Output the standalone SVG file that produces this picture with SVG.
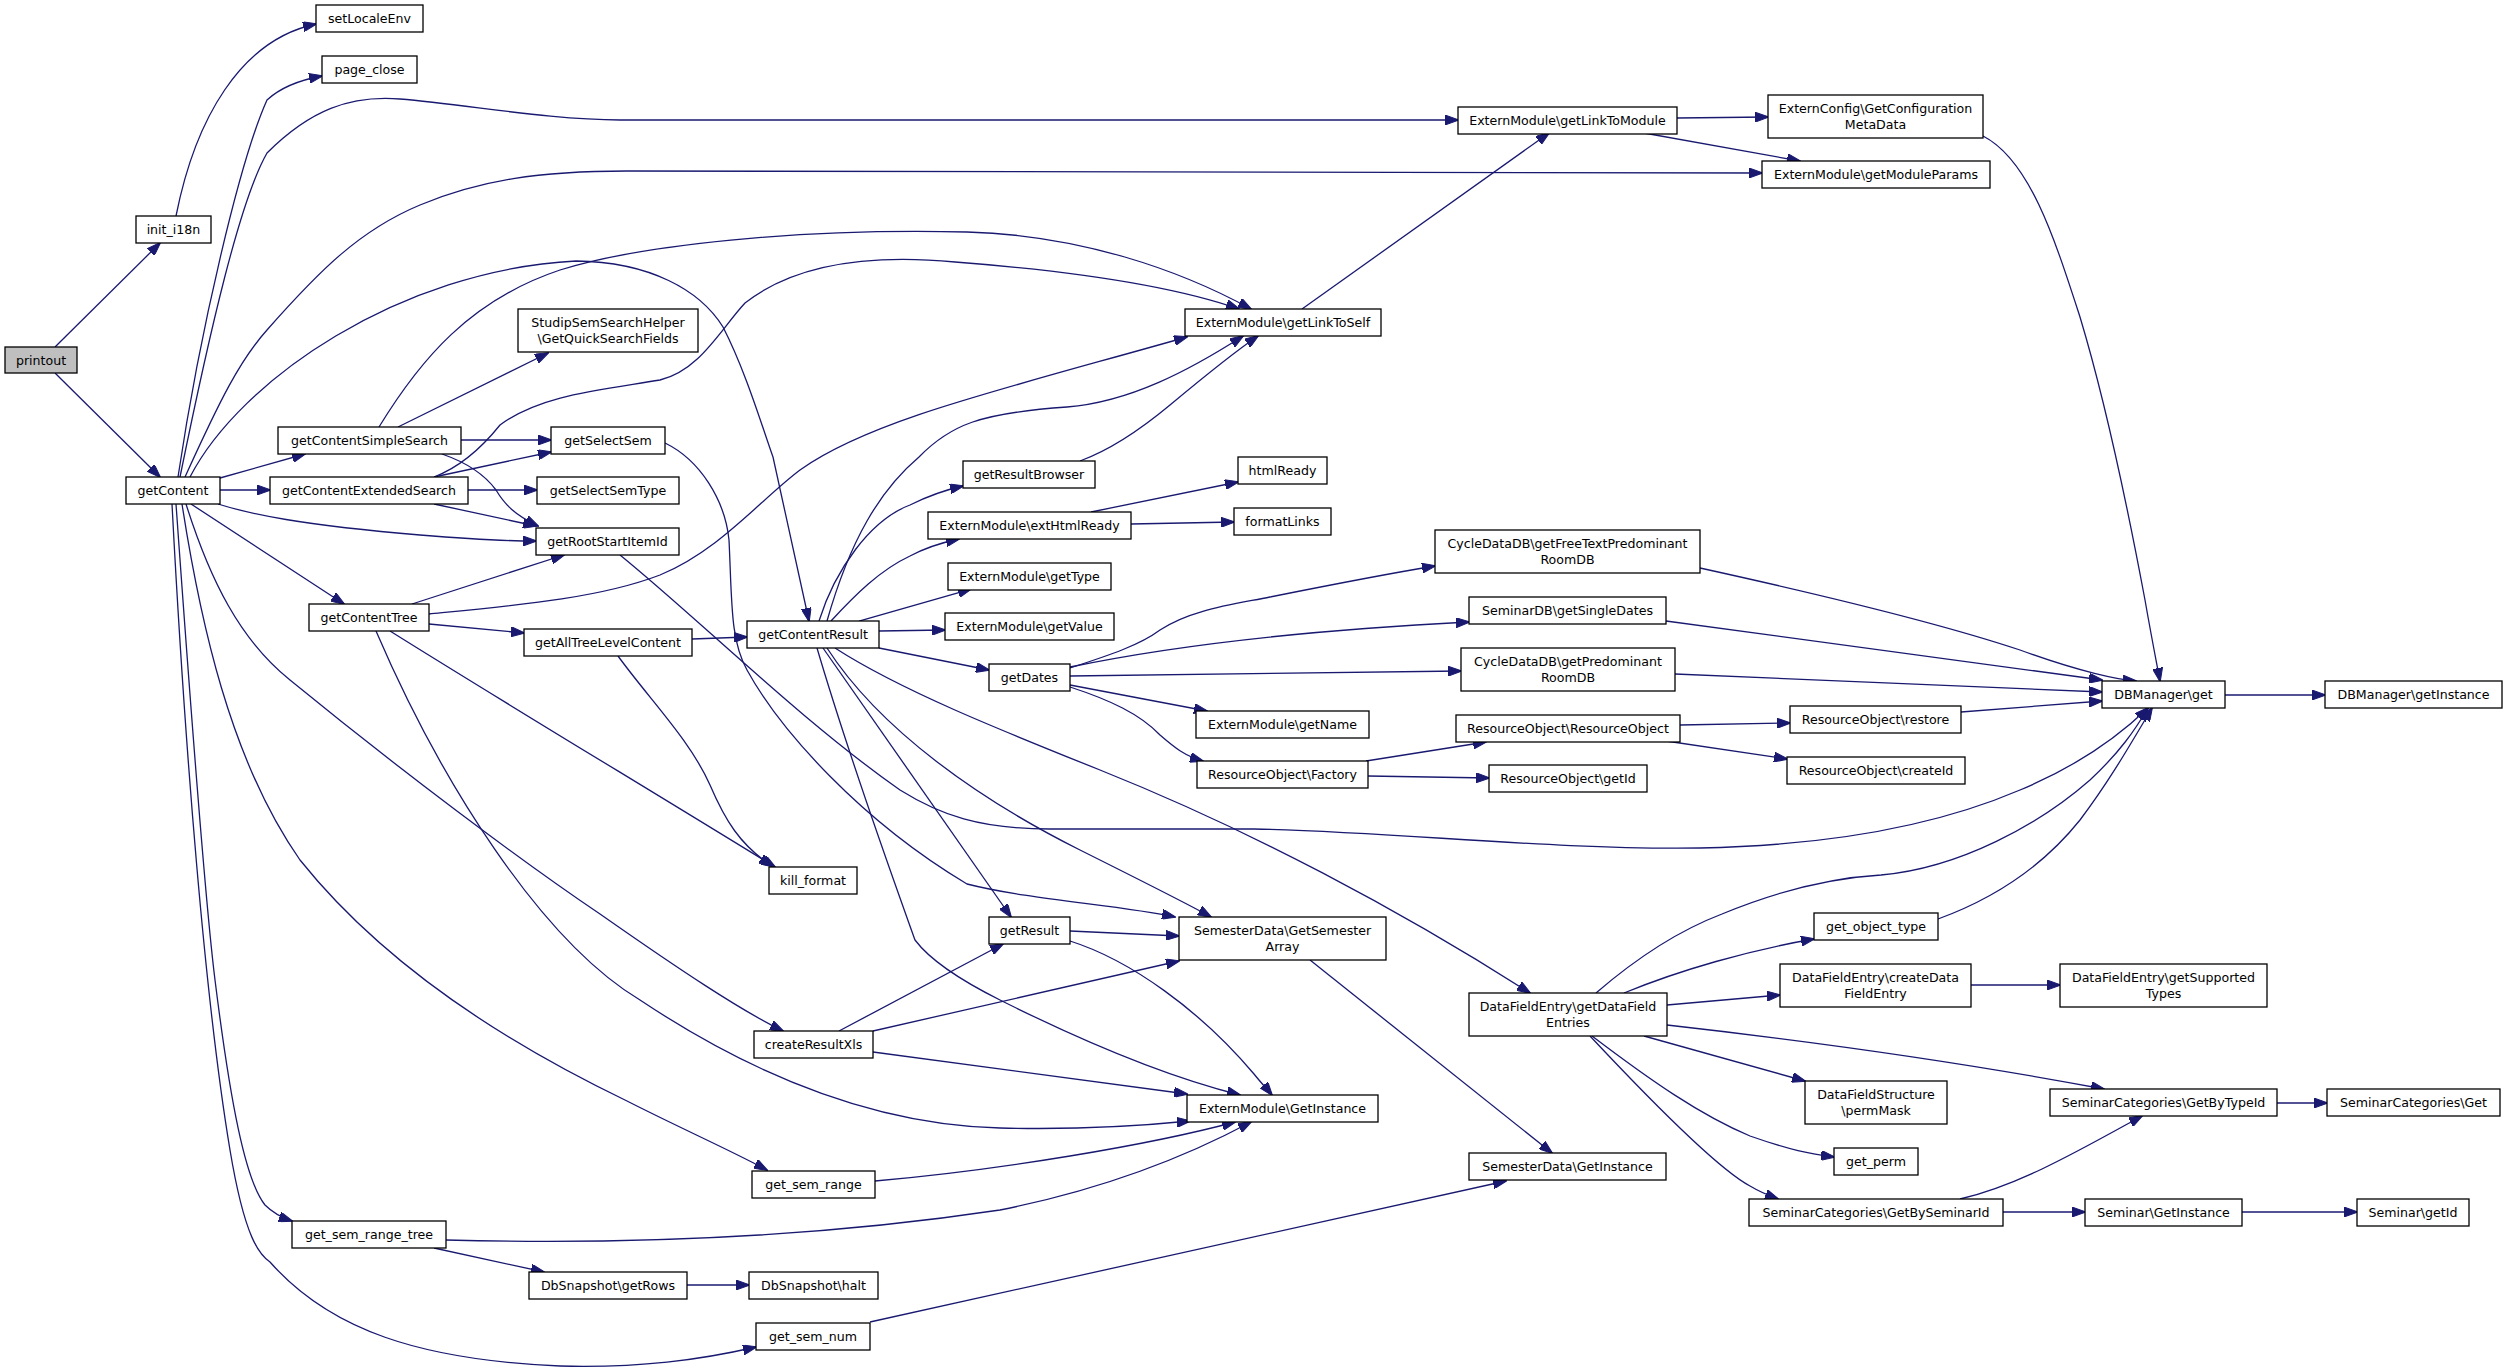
<svg xmlns="http://www.w3.org/2000/svg" width="2507" height="1371" viewBox="0 0 2507 1371">
<style>
.n rect{fill:#fff;stroke:#000;stroke-width:1.3}
.n.root rect{fill:#bfbfbf}
.n text{font-family:"DejaVu Sans",sans-serif;font-size:12.6px;text-anchor:middle;fill:#000}
.e path{fill:none;stroke:#191970;stroke-width:1.3;marker-end:url(#a)}
</style>
<defs>
<marker id="a" markerWidth="14" markerHeight="10" refX="13" refY="5" orient="auto" markerUnits="userSpaceOnUse">
<path d="M0,0 L14,5 L0,10 Z" fill="#191970" stroke="#191970" stroke-width="1"/>
</marker>
</defs>
<rect width="2507" height="1371" fill="#fff"/>
<g id="connectors" class="e">
<path d="M55,347 L160,243"/>
<path d="M55,373 L160,477"/>
<path d="M176,216 C195,120 240,40 316,24"/>
<path d="M178,477 C200,330 240,160 267,100 C280,88 300,80 322,76"/>
<path d="M180,477 C210,330 240,200 267,153 C310,110 350,95 400,99 C470,105 550,120 620,120 L1458,120"/>
<path d="M185,477 C220,400 240,360 267,330 C320,270 360,230 420,205 C480,180 540,171 627,171 L1762,173"/>
<path d="M190,477 C240,380 400,270 576,261 C650,262 700,290 723,327 C745,370 760,420 773,457 L809,621"/>
<path d="M220,478 L305,454"/>
<path d="M220,490 L270,490"/>
<path d="M218,504 C250,514 300,525 420,535 C480,540 510,541 536,541"/>
<path d="M191,504 L344,604"/>
<path d="M186,504 C210,580 240,640 290,680 C400,770 520,860 600,914 C680,970 740,1010 783,1031"/>
<path d="M182,504 C200,620 230,760 300,860 C380,960 500,1040 627,1101 C680,1128 730,1150 767,1170"/>
<path d="M176,504 C190,700 205,900 215,980 C230,1100 245,1180 265,1205 C272,1212 280,1217 292,1221"/>
<path d="M172,504 C185,750 205,1000 230,1150 C245,1240 260,1255 270,1262 C330,1330 420,1360 560,1366 C640,1368 700,1360 756,1347"/>
<path d="M398,427 L548,353"/>
<path d="M461,440 L551,440"/>
<path d="M442,454 C465,462 485,475 496,490 C505,505 515,515 538,526"/>
<path d="M379,427 C420,360 470,300 560,270 C640,245 800,228 967,232 C1080,235 1180,270 1251,309"/>
<path d="M434,477 L551,452"/>
<path d="M434,504 L536,526"/>
<path d="M468,490 L537,490"/>
<path d="M434,477 C460,467 480,450 500,425 C540,395 600,390 660,380 C700,370 720,330 745,303 C800,260 880,255 955,262 C1060,270 1170,285 1239,309"/>
<path d="M412,604 L564,555"/>
<path d="M429,624 L524,633"/>
<path d="M390,631 C500,700 650,790 775,867"/>
<path d="M376,631 C440,780 540,940 640,1000 C760,1080 880,1125 1000,1128 C1080,1130 1150,1125 1190,1121"/>
<path d="M429,614 C520,605 600,598 660,575 C720,550 760,500 800,470 C870,420 1000,390 1187,337"/>
<path d="M827,621 C850,540 880,490 919,457 C950,425 980,413 1067,407 C1130,402 1190,370 1243,336"/>
<path d="M1080,461 C1110,450 1140,430 1170,405 C1200,380 1230,355 1258,336"/>
<path d="M819,621 C835,570 870,520 910,505 C930,495 945,490 963,486"/>
<path d="M831,621 C855,595 880,570 910,556 C925,548 940,543 959,539"/>
<path d="M859,621 L971,589"/>
<path d="M879,631 L945,630"/>
<path d="M879,648 L989,670"/>
<path d="M835,648 C900,690 1000,730 1100,770 C1250,830 1400,910 1530,993"/>
<path d="M823,648 L1011,917"/>
<path d="M827,648 C880,730 980,800 1080,850 C1140,880 1190,905 1211,917"/>
<path d="M817,648 C850,760 890,870 915,940 C930,960 960,980 1000,1000 C1100,1050 1180,1080 1240,1095"/>
<path d="M665,443 C700,460 725,500 729,540 C732,600 730,640 747,670 C780,730 860,820 967,884 C1030,900 1120,905 1175,917"/>
<path d="M620,555 C700,620 800,720 900,790 C940,815 980,829 1050,829 L1254,829 C1400,832 1550,850 1700,848 C1850,845 1950,820 2020,790 C2080,765 2120,735 2148,708"/>
<path d="M692,639 L747,637"/>
<path d="M618,656 C650,700 690,740 710,785 C725,820 740,845 772,866"/>
<path d="M1302,309 L1549,133"/>
<path d="M1677,118 L1768,117"/>
<path d="M1644,133 L1800,161"/>
<path d="M1983,136 C2030,160 2055,240 2080,317 C2105,400 2130,520 2145,600 C2152,640 2157,665 2160,681"/>
<path d="M2225,695 L2325,695"/>
<path d="M1091,512 L1238,482"/>
<path d="M1131,524 L1234,522"/>
<path d="M1070,668 C1110,655 1140,645 1160,630 C1190,610 1230,605 1270,597 C1330,585 1380,575 1435,566"/>
<path d="M1070,667 C1200,640 1350,628 1469,622"/>
<path d="M1070,676 L1461,671"/>
<path d="M1070,685 L1207,711"/>
<path d="M1070,687 C1110,700 1140,714 1160,735 C1175,748 1185,756 1203,761"/>
<path d="M1366,761 L1486,742"/>
<path d="M1368,776 L1489,778"/>
<path d="M1680,725 L1790,723"/>
<path d="M1666,741 L1787,759"/>
<path d="M1961,712 L2102,701"/>
<path d="M1700,568 C1800,590 1930,620 2020,650 C2080,672 2120,680 2136,681"/>
<path d="M1666,621 L2102,680"/>
<path d="M1675,674 L2102,692"/>
<path d="M1596,993 C1640,955 1680,930 1722,914 C1780,890 1830,878 1881,875 C1960,868 2040,824 2090,780 C2120,752 2135,730 2148,708"/>
<path d="M1938,919 C1990,900 2040,870 2080,820 C2110,780 2130,745 2152,708"/>
<path d="M1624,993 C1680,970 1750,950 1814,939"/>
<path d="M1667,1005 L1780,995"/>
<path d="M1667,1025 C1800,1040 1950,1060 2104,1089"/>
<path d="M1644,1036 L1805,1081"/>
<path d="M1592,1036 C1650,1080 1700,1115 1750,1136 C1790,1150 1810,1154 1834,1157"/>
<path d="M1590,1036 C1650,1100 1720,1170 1750,1186 C1760,1192 1770,1196 1778,1199"/>
<path d="M1971,985 L2060,985"/>
<path d="M2277,1103 L2327,1103"/>
<path d="M1960,1199 C2020,1185 2080,1150 2142,1116"/>
<path d="M2003,1212 L2085,1212"/>
<path d="M2242,1212 L2357,1212"/>
<path d="M839,1031 L1003,944"/>
<path d="M873,1031 L1179,961"/>
<path d="M873,1052 L1187,1094"/>
<path d="M1070,931 L1179,936"/>
<path d="M1070,941 C1130,960 1200,1010 1254,1074 C1262,1084 1268,1090 1272,1095"/>
<path d="M1310,960 L1552,1153"/>
<path d="M875,1181 C1000,1170 1150,1145 1235,1122"/>
<path d="M446,1240 C600,1244 800,1240 1000,1210 C1100,1190 1180,1160 1251,1122"/>
<path d="M434,1248 L544,1272"/>
<path d="M687,1285 L749,1285"/>
<path d="M870,1322 L1506,1181"/>
</g>
<g id="printout" class="n root"><rect x="5" y="347" width="72" height="26"/><text x="41" y="364.5">printout</text></g>
<g id="init_i18n" class="n"><rect x="136" y="216" width="75" height="27"/><text x="173.5" y="234">init_i18n</text></g>
<g id="setLocaleEnv" class="n"><rect x="316" y="5" width="107" height="27"/><text x="369.5" y="23">setLocaleEnv</text></g>
<g id="page_close" class="n"><rect x="322" y="56" width="95" height="27"/><text x="369.5" y="74">page_close</text></g>
<g id="getContent" class="n"><rect x="126" y="477" width="94" height="27"/><text x="173" y="495">getContent</text></g>
<g id="getContentSimpleSearch" class="n"><rect x="278" y="427" width="183" height="27"/><text x="369.5" y="445">getContentSimpleSearch</text></g>
<g id="getContentExtendedSearch" class="n"><rect x="270" y="477" width="198" height="27"/><text x="369" y="495">getContentExtendedSearch</text></g>
<g id="getContentTree" class="n"><rect x="309" y="604" width="120" height="27"/><text x="369" y="622">getContentTree</text></g>
<g id="getSelectSem" class="n"><rect x="551" y="427" width="114" height="27"/><text x="608" y="445">getSelectSem</text></g>
<g id="getSelectSemType" class="n"><rect x="537" y="477" width="142" height="27"/><text x="608" y="495">getSelectSemType</text></g>
<g id="getRootStartItemId" class="n"><rect x="536" y="528" width="143" height="27"/><text x="607.5" y="546">getRootStartItemId</text></g>
<g id="getAllTreeLevelContent" class="n"><rect x="524" y="629" width="168" height="27"/><text x="608" y="647">getAllTreeLevelContent</text></g>
<g id="StudipSemSearchHelper_GetQuickSearchFields" class="n"><rect x="518" y="309" width="180" height="43"/><text x="608" y="326.5">StudipSemSearchHelper</text><text x="608" y="342.5">\GetQuickSearchFields</text></g>
<g id="ExternModule_getLinkToSelf" class="n"><rect x="1185" y="309" width="196" height="27"/><text x="1283" y="327">ExternModule\getLinkToSelf</text></g>
<g id="ExternModule_getLinkToModule" class="n"><rect x="1458" y="107" width="219" height="27"/><text x="1567.5" y="125">ExternModule\getLinkToModule</text></g>
<g id="ExternConfig_GetConfigurationMetaData" class="n"><rect x="1768" y="95" width="215" height="43"/><text x="1875.5" y="112.5">ExternConfig\GetConfiguration</text><text x="1875.5" y="128.5">MetaData</text></g>
<g id="ExternModule_getModuleParams" class="n"><rect x="1762" y="161" width="228" height="27"/><text x="1876" y="179">ExternModule\getModuleParams</text></g>
<g id="getContentResult" class="n"><rect x="747" y="621" width="132" height="27"/><text x="813" y="639">getContentResult</text></g>
<g id="getResultBrowser" class="n"><rect x="963" y="461" width="132" height="27"/><text x="1029" y="479">getResultBrowser</text></g>
<g id="ExternModule_extHtmlReady" class="n"><rect x="928" y="512" width="203" height="27"/><text x="1029.5" y="530">ExternModule\extHtmlReady</text></g>
<g id="ExternModule_getType" class="n"><rect x="948" y="563" width="163" height="27"/><text x="1029.5" y="581">ExternModule\getType</text></g>
<g id="ExternModule_getValue" class="n"><rect x="945" y="613" width="169" height="27"/><text x="1029.5" y="631">ExternModule\getValue</text></g>
<g id="getDates" class="n"><rect x="989" y="664" width="81" height="27"/><text x="1029.5" y="682">getDates</text></g>
<g id="kill_format" class="n"><rect x="769" y="867" width="88" height="27"/><text x="813" y="885">kill_format</text></g>
<g id="htmlReady" class="n"><rect x="1238" y="457" width="89" height="27"/><text x="1282.5" y="475">htmlReady</text></g>
<g id="formatLinks" class="n"><rect x="1234" y="508" width="97" height="27"/><text x="1282.5" y="526">formatLinks</text></g>
<g id="ExternModule_getName" class="n"><rect x="1196" y="711" width="173" height="27"/><text x="1282.5" y="729">ExternModule\getName</text></g>
<g id="ResourceObject_Factory" class="n"><rect x="1197" y="761" width="171" height="27"/><text x="1282.5" y="779">ResourceObject\Factory</text></g>
<g id="CycleDataDB_getFreeTextPredominantRoomDB" class="n"><rect x="1435" y="530" width="265" height="43"/><text x="1567.5" y="547.5">CycleDataDB\getFreeTextPredominant</text><text x="1567.5" y="563.5">RoomDB</text></g>
<g id="SeminarDB_getSingleDates" class="n"><rect x="1469" y="597" width="197" height="27"/><text x="1567.5" y="615">SeminarDB\getSingleDates</text></g>
<g id="CycleDataDB_getPredominantRoomDB" class="n"><rect x="1461" y="648" width="214" height="43"/><text x="1568" y="665.5">CycleDataDB\getPredominant</text><text x="1568" y="681.5">RoomDB</text></g>
<g id="ResourceObject_ResourceObject" class="n"><rect x="1456" y="715" width="224" height="27"/><text x="1568" y="733">ResourceObject\ResourceObject</text></g>
<g id="ResourceObject_getId" class="n"><rect x="1489" y="765" width="158" height="27"/><text x="1568" y="783">ResourceObject\getId</text></g>
<g id="ResourceObject_restore" class="n"><rect x="1790" y="706" width="171" height="27"/><text x="1875.5" y="724">ResourceObject\restore</text></g>
<g id="ResourceObject_createId" class="n"><rect x="1787" y="757" width="178" height="27"/><text x="1876" y="775">ResourceObject\createId</text></g>
<g id="DBManager_get" class="n"><rect x="2102" y="681" width="123" height="27"/><text x="2163.5" y="699">DBManager\get</text></g>
<g id="DBManager_getInstance" class="n"><rect x="2325" y="681" width="177" height="27"/><text x="2413.5" y="699">DBManager\getInstance</text></g>
<g id="getResult" class="n"><rect x="989" y="917" width="81" height="27"/><text x="1029.5" y="935">getResult</text></g>
<g id="SemesterData_GetSemesterArray" class="n"><rect x="1179" y="917" width="207" height="43"/><text x="1282.5" y="934.5">SemesterData\GetSemester</text><text x="1282.5" y="950.5">Array</text></g>
<g id="createResultXls" class="n"><rect x="754" y="1031" width="119" height="27"/><text x="813.5" y="1049">createResultXls</text></g>
<g id="ExternModule_GetInstance" class="n"><rect x="1187" y="1095" width="191" height="27"/><text x="1282.5" y="1113">ExternModule\GetInstance</text></g>
<g id="get_sem_range" class="n"><rect x="752" y="1171" width="123" height="27"/><text x="813.5" y="1189">get_sem_range</text></g>
<g id="get_sem_range_tree" class="n"><rect x="292" y="1221" width="154" height="27"/><text x="369" y="1239">get_sem_range_tree</text></g>
<g id="DbSnapshot_getRows" class="n"><rect x="529" y="1272" width="158" height="27"/><text x="608" y="1290">DbSnapshot\getRows</text></g>
<g id="DbSnapshot_halt" class="n"><rect x="749" y="1272" width="129" height="27"/><text x="813.5" y="1290">DbSnapshot\halt</text></g>
<g id="get_sem_num" class="n"><rect x="756" y="1323" width="114" height="27"/><text x="813" y="1341">get_sem_num</text></g>
<g id="DataFieldEntry_getDataFieldEntries" class="n"><rect x="1469" y="993" width="198" height="43"/><text x="1568" y="1010.5">DataFieldEntry\getDataField</text><text x="1568" y="1026.5">Entries</text></g>
<g id="SemesterData_GetInstance" class="n"><rect x="1469" y="1153" width="197" height="27"/><text x="1567.5" y="1171">SemesterData\GetInstance</text></g>
<g id="get_object_type" class="n"><rect x="1814" y="913" width="124" height="27"/><text x="1876" y="931">get_object_type</text></g>
<g id="DataFieldEntry_createDataFieldEntry" class="n"><rect x="1780" y="964" width="191" height="43"/><text x="1875.5" y="981.5">DataFieldEntry\createData</text><text x="1875.5" y="997.5">FieldEntry</text></g>
<g id="DataFieldStructure_permMask" class="n"><rect x="1805" y="1081" width="142" height="43"/><text x="1876" y="1098.5">DataFieldStructure</text><text x="1876" y="1114.5">\permMask</text></g>
<g id="get_perm" class="n"><rect x="1834" y="1148" width="84" height="27"/><text x="1876" y="1166">get_perm</text></g>
<g id="SeminarCategories_GetBySeminarId" class="n"><rect x="1749" y="1199" width="254" height="27"/><text x="1876" y="1217">SeminarCategories\GetBySeminarId</text></g>
<g id="DataFieldEntry_getSupportedTypes" class="n"><rect x="2060" y="964" width="207" height="43"/><text x="2163.5" y="981.5">DataFieldEntry\getSupported</text><text x="2163.5" y="997.5">Types</text></g>
<g id="SeminarCategories_GetByTypeId" class="n"><rect x="2050" y="1089" width="227" height="27"/><text x="2163.5" y="1107">SeminarCategories\GetByTypeId</text></g>
<g id="SeminarCategories_Get" class="n"><rect x="2327" y="1089" width="173" height="27"/><text x="2413.5" y="1107">SeminarCategories\Get</text></g>
<g id="Seminar_GetInstance" class="n"><rect x="2085" y="1199" width="157" height="27"/><text x="2163.5" y="1217">Seminar\GetInstance</text></g>
<g id="Seminar_getId" class="n"><rect x="2357" y="1199" width="112" height="27"/><text x="2413" y="1217">Seminar\getId</text></g>
</svg>
